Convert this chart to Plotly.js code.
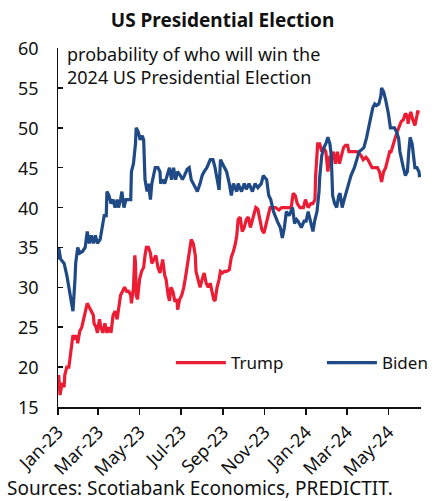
<!DOCTYPE html>
<html>
<head>
<meta charset="utf-8">
<script src="https://cdn.plot.ly/plotly-3.0.1.min.js"></script>
<style>
html,body{margin:0;padding:0;background:#fff;}
#chart{width:445px;height:501px;}
</style>
</head>
<body>
<div id="chart"></div>
<script>
const bidenDates = ["2023-01-01","2023-01-02","2023-01-05","2023-01-10","2023-01-14","2023-01-17","2023-01-20","2023-01-23","2023-01-26","2023-01-27","2023-01-30","2023-02-02","2023-02-06","2023-02-10","2023-02-13","2023-02-16","2023-02-19","2023-02-22","2023-02-25","2023-02-28","2023-03-04","2023-03-07","2023-03-10","2023-03-13","2023-03-14","2023-03-17","2023-03-20","2023-03-23","2023-03-26","2023-03-29","2023-03-31","2023-04-03","2023-04-05","2023-04-08","2023-04-11","2023-04-15","2023-04-18","2023-04-19","2023-04-22","2023-04-25","2023-04-26","2023-04-29","2023-05-02","2023-05-05","2023-05-07","2023-05-09","2023-05-12","2023-05-14","2023-05-17","2023-05-19","2023-05-24","2023-05-28","2023-05-31","2023-06-01","2023-06-04","2023-06-07","2023-06-10","2023-06-14","2023-06-17","2023-06-20","2023-06-23","2023-06-26","2023-06-30","2023-07-03","2023-07-06","2023-07-10","2023-07-13","2023-07-16","2023-07-19","2023-07-22","2023-07-25","2023-07-29","2023-08-01","2023-08-04","2023-08-08","2023-08-13","2023-08-17","2023-08-20","2023-08-23","2023-08-26","2023-08-28","2023-08-31","2023-09-03","2023-09-06","2023-09-10","2023-09-13","2023-09-16","2023-09-21","2023-09-23","2023-09-28","2023-10-02","2023-10-05","2023-10-09","2023-10-14","2023-10-18","2023-10-22","2023-10-27","2023-10-30","2023-11-01","2023-11-04","2023-11-07","2023-11-10","2023-11-14","2023-11-17","2023-11-20","2023-11-24","2023-11-27","2023-11-30","2023-12-03","2023-12-07","2023-12-12","2023-12-15","2023-12-18","2023-12-20","2023-12-25","2023-12-29","2024-01-01","2024-01-04","2024-01-07","2024-01-11","2024-01-14","2024-01-17","2024-01-20","2024-01-21","2024-01-24","2024-01-27","2024-01-30","2024-02-02","2024-02-05","2024-02-07","2024-02-09","2024-02-12","2024-02-15","2024-02-18","2024-02-20","2024-02-23","2024-02-26","2024-02-29","2024-03-04","2024-03-07","2024-03-12","2024-03-15","2024-03-19","2024-03-22","2024-03-26","2024-03-30","2024-04-02","2024-04-05","2024-04-08","2024-04-11","2024-04-14","2024-04-17","2024-04-20","2024-04-21","2024-04-24","2024-04-27","2024-04-30","2024-05-01","2024-05-04","2024-05-07","2024-05-10","2024-05-13","2024-05-16","2024-05-18","2024-05-20","2024-05-23","2024-05-26","2024-05-29","2024-05-31","2024-06-02","2024-06-05","2024-06-06","2024-06-09","2024-06-12","2024-06-15","2024-06-16"];
const bidenValues = [33.5,35,33.5,33,31.5,30,29,27,31,33,35,34.3,34.5,35,37,35.5,36.5,35.5,36.5,35.5,36,37.5,39,39,42,41.5,40.5,41,40,41,40,41,42,40,41,41,41,44.5,45.5,48,50,49.5,48.5,49,48.5,43.5,42,43,41,43,45,45,44.5,43,43.5,43,44,45,43.5,45,43.5,44.5,44,43.5,44,44.8,45,43.5,43,42.5,42,43,44,44.5,45,46,46,45,43.5,42.2,46,45.5,45,44.5,43,41.5,43,42,43,42,43,42.3,43,42,43,42.5,43,44,43.8,43.5,41.5,41,39.5,38.8,38.2,37.5,36.2,37.5,39.5,39,40,38,38.5,38.3,37.5,38.3,38.3,39.5,38.5,37,38.5,39.5,42,43.8,46.5,47.5,48,48.8,48,46.5,41.5,40.5,40,41.5,41.8,40,41,42,43,44,45,46,47,47.2,47.5,48.8,50,51.5,52.5,53,52.8,53,54,55,54.5,53.5,52.5,51.8,50,50,50,49.5,48.7,47,46,45,44,44.5,47,48.8,48,47.3,45,45,44.5,43.8];

const trumpDates = ["2023-01-01","2023-01-02","2023-01-04","2023-01-07","2023-01-10","2023-01-11","2023-01-14","2023-01-17","2023-01-20","2023-01-23","2023-01-26","2023-01-28","2023-01-30","2023-02-02","2023-02-05","2023-02-08","2023-02-10","2023-02-13","2023-02-16","2023-02-19","2023-02-22","2023-02-23","2023-02-26","2023-02-28","2023-03-03","2023-03-05","2023-03-08","2023-03-11","2023-03-14","2023-03-17","2023-03-20","2023-03-23","2023-03-26","2023-03-29","2023-03-31","2023-04-03","2023-04-06","2023-04-09","2023-04-12","2023-04-15","2023-04-18","2023-04-19","2023-04-22","2023-04-24","2023-04-25","2023-04-26","2023-04-28","2023-05-01","2023-05-04","2023-05-07","2023-05-09","2023-05-11","2023-05-14","2023-05-17","2023-05-19","2023-05-22","2023-05-25","2023-05-28","2023-05-31","2023-06-03","2023-06-04","2023-06-07","2023-06-09","2023-06-12","2023-06-14","2023-06-16","2023-06-19","2023-06-22","2023-06-25","2023-06-26","2023-06-29","2023-07-02","2023-07-05","2023-07-08","2023-07-10","2023-07-13","2023-07-16","2023-07-19","2023-07-22","2023-07-23","2023-07-26","2023-07-29","2023-08-01","2023-08-04","2023-08-07","2023-08-10","2023-08-13","2023-08-15","2023-08-18","2023-08-20","2023-08-23","2023-08-26","2023-08-28","2023-08-31","2023-09-03","2023-09-06","2023-09-10","2023-09-13","2023-09-16","2023-09-19","2023-09-21","2023-09-23","2023-09-26","2023-09-29","2023-10-02","2023-10-05","2023-10-08","2023-10-11","2023-10-14","2023-10-17","2023-10-19","2023-10-22","2023-10-25","2023-10-28","2023-10-31","2023-11-03","2023-11-06","2023-11-09","2023-11-11","2023-11-17","2023-11-22","2023-11-26","2023-12-02","2023-12-06","2023-12-10","2023-12-13","2023-12-16","2023-12-19","2023-12-23","2023-12-28","2023-12-31","2024-01-04","2024-01-08","2024-01-11","2024-01-14","2024-01-15","2024-01-17","2024-01-18","2024-01-21","2024-01-24","2024-01-27","2024-01-30","2024-02-02","2024-02-05","2024-02-07","2024-02-10","2024-02-13","2024-02-16","2024-02-19","2024-02-22","2024-02-25","2024-02-28","2024-03-02","2024-03-04","2024-03-07","2024-03-12","2024-03-15","2024-03-19","2024-03-22","2024-03-25","2024-03-29","2024-04-01","2024-04-04","2024-04-07","2024-04-11","2024-04-15","2024-04-18","2024-04-21","2024-04-24","2024-04-27","2024-04-30","2024-05-03","2024-05-05","2024-05-08","2024-05-11","2024-05-14","2024-05-17","2024-05-20","2024-05-23","2024-05-26","2024-05-29","2024-05-30","2024-05-31","2024-06-03","2024-06-06","2024-06-09","2024-06-12","2024-06-13","2024-06-16"];
const trumpValues = [17,19,16.5,18,17.5,19,20,20,22,24,23.5,24,23,24.5,25,26,27,28,27.5,27,26.5,25.5,25,24.3,26,25,24.3,25.5,24.3,25,24.3,26.5,27,26,27.5,29,29.5,30,29.5,29.5,29,28,30,34,33,29,28.5,31,32,32.5,34,35,35,34.3,33,33.5,34,32.5,31.8,33,33.5,31.5,31,29,28.3,30,29.5,28.2,28.5,27.2,28.5,29,30,31.5,32.6,34.5,36,35.5,34,32,31,30,31,31.8,30.5,30,30.5,29.6,28.5,28.3,30,31,32,31.8,32,32,32.2,33.8,34.5,35.5,36.5,38.5,38.8,37,37.5,38.5,38.8,37.5,38.5,39.7,40,39.8,38.5,37.2,36.8,38,39,40,40,40,39.7,40,40,40,40,41.8,41.5,40.5,40,40,41,40,40.5,40.5,41,44,46.5,48,48,47,47.5,47,44.5,46.5,46,47,45.5,47,45.5,46.5,47.5,47.8,47.8,47,47,47,47,46.8,46.5,46,46.3,46,45.5,45,45,45,44.5,43.2,44.5,45,46,47,47,48,48.7,49.5,50.2,50.8,51,51.8,51.5,50.5,51,52,51,50.3,51.5,52,52];

const yTickValues = [15, 20, 25, 30, 35, 40, 45, 50, 55, 60];
const seriesNames = ["Trump","Biden"];
const seriesColors = ["#ec1c34","#1f4a85"];
const chartTitle = "US Presidential Election";
const noteText = "probability of who will win the<br>2024 US Presidential Election";
const sourceText = "Sources: Scotiabank Economics, PREDICTIT.";

const FONT = "Noto Sans, Open Sans, sans-serif";

const traces = [
  {x: trumpDates, y: trumpValues, name: seriesNames[0], type: "scatter", mode: "lines",
   line: {color: seriesColors[0], width: 3.2}, legend: "legend"},
  {x: bidenDates, y: bidenValues, name: seriesNames[1], type: "scatter", mode: "lines",
   line: {color: seriesColors[1], width: 3.2}, legend: "legend2"}
];

const yLabelAnnotations = yTickValues.map(v => ({
  text: String(v), xref: "paper", yref: "y", x: -0.048, y: v,
  xanchor: "right", yanchor: "middle", showarrow: false,
  font: {family: FONT, size: 18, color: "#111"}
}));

const layout = {
  width: 445, height: 501,
  margin: {l: 58, r: 19, t: 48, b: 94},
  paper_bgcolor: "#fff", plot_bgcolor: "#fff",
  font: {family: FONT, color: "#111", size: 16},
  title: {text: "<b>" + chartTitle + "</b>", x: 0.5, xanchor: "center", y: 0.972, yanchor: "top",
          font: {family: FONT, size: 19, color: "#111"}},
  xaxis: {
    type: "date",
    range: ["2023-01-01", "2024-06-18"],
    tickformat: "%b-%y", dtick: "M2", tick0: "2023-01-01",
    tickangle: -45, ticks: "outside", ticklen: 6, tickcolor: "#111", tickwidth: 1.5,
    showline: true, linecolor: "#111", linewidth: 1.5,
    showgrid: false, zeroline: false,
    tickfont: {family: FONT, size: 18, color: "#111"}
  },
  yaxis: {
    range: [15, 60], tickvals: yTickValues, showticklabels: false,
    ticks: "inside", ticklen: 5, tickcolor: "#111", tickwidth: 1.5,
    showline: true, linecolor: "#111", linewidth: 1.5,
    showgrid: false, zeroline: false
  },
  showlegend: true,
  legend: {x: 0.311, y: 0.1226, xanchor: "left", yanchor: "middle", bgcolor: "rgba(0,0,0,0)",
           itemwidth: 50, font: {family: FONT, size: 17, color: "#111"}},
  legend2: {x: 0.727, y: 0.1226, xanchor: "left", yanchor: "middle", bgcolor: "rgba(0,0,0,0)",
           itemwidth: 50, font: {family: FONT, size: 17, color: "#111"}},
  annotations: [
    {text: noteText, xref: "paper", yref: "paper", x: 0.02, y: 1.022, xanchor: "left", yanchor: "top",
     showarrow: false, align: "left", font: {family: FONT, size: 18, color: "#111"}},
    {text: sourceText, xref: "paper", yref: "paper", x: -0.146, y: -0.227, xanchor: "left", yanchor: "middle",
     showarrow: false, align: "left", font: {family: FONT, size: 19, color: "#111"}}
  ].concat(yLabelAnnotations)
};

Plotly.newPlot("chart", traces, layout, {displayModeBar: false, staticPlot: true});
</script>
</body>
</html>
